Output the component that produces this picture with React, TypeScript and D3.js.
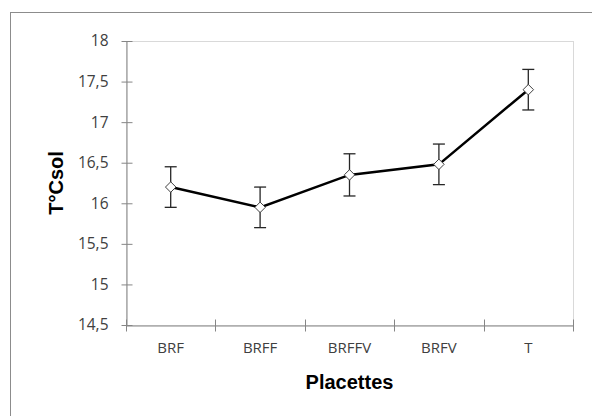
import React, { useRef, useEffect } from "react";
import * as d3 from "d3";

const categories = ["BRF", "BRFF", "BRFFV", "BRFV", "T"];
const means = [16.2, 15.95, 16.35, 16.48, 17.4];
const errors = [0.25, 0.25, 0.26, 0.25, 0.25];
const yTicks = [14.5, 15, 15.5, 16, 16.5, 17, 17.5, 18];

const W = 592;
const H = 416;

const App = () => {
    const svgRef = useRef<SVGSVGElement | null>(null);

    useEffect(() => {
        const svg = d3.select(svgRef.current);
        svg.selectAll("*").remove();

        const margin = { top: 41, right: 19, bottom: 91, left: 126 };
        const innerWidth = W - margin.left - margin.right;
        const innerHeight = H - margin.top - margin.bottom;

        // outer chart frame (runs off the right and bottom edges)
        svg.append("rect")
            .attr("x", 10.5)
            .attr("y", 12.5)
            .attr("width", W)
            .attr("height", H)
            .attr("fill", "#fff")
            .attr("stroke", "#8c8c8c");

        const x = d3.scaleBand()
            .domain(categories)
            .range([0, innerWidth]);

        const y = d3.scaleLinear()
            .domain([14.5, 18])
            .range([innerHeight, 0]);

        const g = svg.append("g")
            .attr("transform", `translate(${margin.left},${margin.top})`);

        // plot area border
        g.append("rect")
            .attr("x", 0.5)
            .attr("y", 0.5)
            .attr("width", innerWidth)
            .attr("height", innerHeight)
            .attr("fill", "none")
            .attr("stroke", "#d9d9d9");

        const yAxis = g.append("g")
            .attr("transform", "translate(0.5,0)")
            .call(d3.axisLeft(y)
                .tickValues(yTicks)
                .tickSizeInner(5)
                .tickSizeOuter(0)
                .tickPadding(13)
                .tickFormat(d => String(d).replace(".", ",")));
        yAxis.select(".domain").attr("stroke", "#868686");
        yAxis.selectAll(".tick line")
            .attr("stroke", "#868686")
            .attr("x1", 6)
            .attr("x2", -5);
        yAxis.selectAll(".tick text")
            .attr("font-family", "'Open Sans', sans-serif")
            .attr("font-size", 15.5)
            .attr("fill", "#404040");

        const xAxis = g.append("g")
            .attr("transform", `translate(0,${innerHeight + 0.5})`)
            .call(d3.axisBottom(x).tickSize(0).tickPadding(17));
        xAxis.select(".domain").attr("stroke", "#868686");
        xAxis.selectAll(".tick text")
            .attr("font-family", "'Open Sans', sans-serif")
            .attr("font-size", 15)
            .attr("fill", "#404040");

        // category boundary ticks
        const bounds = d3.range(categories.length + 1).map(i => i * x.step());
        xAxis.selectAll(".bound")
            .data(bounds)
            .enter()
            .append("line")
            .attr("class", "bound")
            .attr("x1", d => Math.round(d) + 0.5)
            .attr("x2", d => Math.round(d) + 0.5)
            .attr("y1", -6)
            .attr("y2", 6)
            .attr("stroke", "#868686");

        const cx = (c: string) => (x(c) ?? 0) + x.bandwidth() / 2;

        // error bars
        const eb = g.append("g")
            .selectAll("g")
            .data(categories)
            .enter()
            .append("g");
        eb.append("line")
            .attr("x1", d => cx(d))
            .attr("x2", d => cx(d))
            .attr("y1", (d, i) => y(means[i] + errors[i]))
            .attr("y2", (d, i) => y(means[i] - errors[i]))
            .attr("stroke", "#262626")
            .attr("stroke-width", 1.3);
        [1, -1].forEach(s => {
            eb.append("line")
                .attr("x1", d => cx(d) - 6)
                .attr("x2", d => cx(d) + 6)
                .attr("y1", (d, i) => y(means[i] + s * errors[i]))
                .attr("y2", (d, i) => y(means[i] + s * errors[i]))
                .attr("stroke", "#262626")
                .attr("stroke-width", 1.3);
        });

        const line = d3.line<number>()
            .x((d, i) => cx(categories[i]))
            .y(d => y(d));

        g.append("path")
            .datum(means)
            .attr("d", line)
            .attr("fill", "none")
            .attr("stroke", "#000")
            .attr("stroke-width", 2.5);

        const diamond = d3.symbol().type(d3.symbolDiamond2).size(70);
        g.selectAll(".pt")
            .data(means)
            .enter()
            .append("path")
            .attr("class", "pt")
            .attr("transform", (d, i) => `translate(${cx(categories[i])},${y(d)})`)
            .attr("d", diamond)
            .attr("fill", "#fff")
            .attr("stroke", "#404040")
            .attr("stroke-width", 1);

        // axis titles
        svg.append("text")
            .attr("x", margin.left + innerWidth / 2)
            .attr("y", 389)
            .attr("text-anchor", "middle")
            .attr("font-family", "'Liberation Sans', Arial, sans-serif")
            .attr("font-weight", "bold")
            .attr("font-size", 20)
            .attr("fill", "#000")
            .text("Placettes");

        svg.append("text")
            .attr("transform", `translate(63,${margin.top + innerHeight / 2}) rotate(-90)`)
            .attr("text-anchor", "middle")
            .attr("font-family", "'Liberation Sans', Arial, sans-serif")
            .attr("font-weight", "bold")
            .attr("font-size", 20)
            .attr("fill", "#000")
            .text("T°Csol");
    }, []);

    return (
        <svg
            ref={svgRef}
            width={W}
            height={H}
            style={{ position: "absolute", left: 0, top: 0, display: "block" }}
        />
    );
};

export default App;
